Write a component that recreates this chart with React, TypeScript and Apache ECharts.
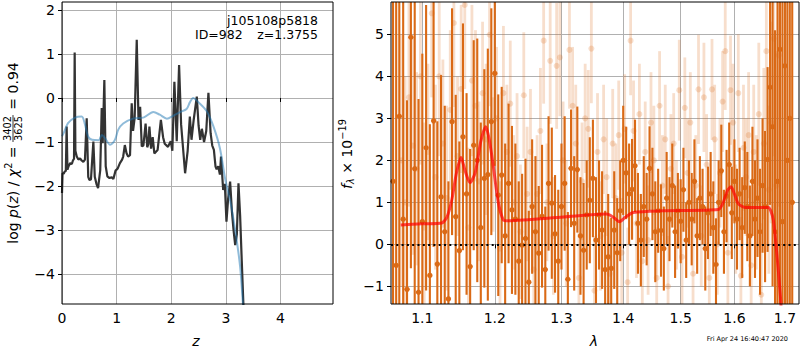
import React, { useEffect, useRef } from 'react';
import * as echarts from 'echarts';

// ---------- left panel: p(z) ----------
const zGrid = [0.0, 0.01, 0.03, 0.05, 0.07, 0.085, 0.1, 0.12, 0.15, 0.18, 0.2, 0.22, 0.232, 0.245, 0.27, 0.3, 0.33, 0.36, 0.39, 0.42, 0.452, 0.48, 0.5, 0.53, 0.574, 0.6, 0.63, 0.66, 0.7, 0.727, 0.745, 0.775, 0.8, 0.83, 0.87, 0.91, 0.94, 0.98, 1.02, 1.06, 1.1, 1.12, 1.15, 1.18, 1.21, 1.245, 1.276, 1.3, 1.33, 1.368, 1.4, 1.43, 1.46, 1.49, 1.53, 1.56, 1.58, 1.6, 1.63, 1.66, 1.69, 1.72, 1.75, 1.81, 1.85, 1.88, 1.94, 1.99, 2.02, 2.057, 2.1, 2.143, 2.18, 2.253, 2.3, 2.34, 2.37, 2.41, 2.467, 2.5, 2.53, 2.56, 2.6, 2.64, 2.68, 2.72, 2.75, 2.78, 2.81, 2.83, 2.86, 2.89, 2.91, 2.95, 2.98, 3.01, 3.04, 3.077, 3.11, 3.14, 3.17, 3.2, 3.23, 3.26, 3.29, 3.32, 3.34];
const logPz = [-2.16, -1.71, -1.72, -1.67, -1.66, -0.65, -1.63, -1.55, -1.48, -1.5, -1.42, -1.38, 1.03, -1.2, -1.33, -1.4, -1.37, -1.42, -1.45, -1.4, -0.46, -1.79, -1.86, -1.85, -0.99, -1.79, -1.95, -2.05, -1.64, -0.23, -1.03, 0.41, -1.55, -1.78, -1.82, -1.8, -1.84, -1.65, -1.6, -1.48, -1.4, -1.33, -1.07, -1.25, -1.33, -1.3, -0.12, -0.75, -0.45, 1.32, -0.5, -0.2, -1.1, -1.08, -0.58, -1.12, -1.05, -0.65, -1.15, -0.89, -1.26, -1.22, -1.18, -0.5, -0.89, -1.04, -1.11, -0.98, -1.2, 0.37, -0.98, 0.75, -0.6, -1.71, -1.2, -0.42, -0.95, -0.5, 0.03, -0.63, -0.95, -0.7, -1.0, -0.75, 0.12, -0.8, -1.08, -1.18, -1.56, -1.62, -1.55, -1.74, -1.33, -2.09, -1.95, -2.81, -2.3, -1.9, -2.58, -3.0, -3.34, -3.1, -1.94, -2.67, -3.7, -4.7, -5.5];
const zModel = [0.0, 0.03, 0.11, 0.23, 0.36, 0.42, 0.48, 0.55, 0.67, 0.73, 0.79, 0.88, 0.97, 1.03, 1.12, 1.3, 1.5, 1.67, 1.79, 1.92, 2.04, 2.16, 2.28, 2.34, 2.4, 2.5, 2.65, 2.77, 2.89, 2.985, 3.08, 3.17, 3.26, 3.31, 3.34];
const logPzModel = [-0.87, -0.8, -0.57, -0.45, -0.42, -0.6, -0.88, -0.95, -0.96, -0.84, -0.92, -1.06, -0.95, -0.72, -0.58, -0.47, -0.44, -0.32, -0.38, -0.47, -0.4, -0.32, -0.25, -0.1, 0.0, -0.1, -0.3, -0.64, -1.14, -1.83, -2.35, -3.0, -3.83, -4.66, -5.3];
const pzTicksX = [0, 1, 2, 3, 4];
const pzTicksY = [-4, -3, -2, -1, 0, 1, 2];

// ---------- right panel: spectrum [lambda, flux, err] ----------
const darkSpec: number[][] = [
  [1.062, 1.5, 9], [1.066, -0.5, 8], [1.07, 3.05, 5.0], [1.075, 0.6, 5.5], [1.08, -1.07, 4.5], [1.085, 4.93, 5.5], [1.09, 1.8, 4.2], [1.095, -1.14, 4.6], [1.1, 0.54, 4.0], [1.105, 2.3, 3.4],
  [1.11, -0.74, 3.6], [1.115, 2.94, 3.0], [1.12, -0.47, 3.4], [1.125, 1.13, 2.9], [1.13, 0.3, 3.0], [1.135, -1.3, 2.8], [1.14, 2.92, 2.7], [1.145, 0.66, 2.9], [1.15, -0.15, 2.6], [1.155, 2.56, 2.7],
  [1.16, 1.2, 2.4], [1.165, -0.53, 2.8], [1.17, 2.36, 2.5], [1.175, 2.0, 2.9], [1.18, 0.4, 2.5], [1.185, 1.57, 2.6], [1.19, 1.66, 3.0], [1.195, 2.92, 2.7], [1.2, 4.07, 2.2], [1.205, 1.17, 2.4],
  [1.21, 1.65, 2.1], [1.215, 0.2, 2.2], [1.22, 1.45, 1.9], [1.225, 0.82, 2.0], [1.23, 0.6, 1.8], [1.235, -0.4, 1.9], [1.24, -0.02, 1.7], [1.245, 0.14, 1.9], [1.25, -0.9, 1.7], [1.255, 0.9, 1.6],
  [1.26, 0.3, 1.8], [1.265, -0.21, 1.6], [1.27, 0.67, 1.7], [1.275, -0.6, 1.5], [1.28, 1.45, 1.6], [1.285, 0.98, 1.8], [1.29, 0.25, 1.4], [1.295, -0.4, 1.7], [1.3, 0.9, 1.5], [1.305, 1.45, 1.6],
  [1.31, -0.83, 1.6], [1.315, 1.81, 1.4], [1.32, 0.5, 1.6], [1.325, 1.78, 1.5], [1.33, 0.2, 1.4], [1.335, -0.14, 1.6], [1.34, 0.7, 1.3], [1.345, 1.05, 1.5], [1.35, 1.57, 1.4], [1.355, 0.1, 1.5],
  [1.36, 0.7, 1.3], [1.365, 0.34, 1.4], [1.37, -0.6, 1.4], [1.375, -0.3, 1.5], [1.38, -0.57, 1.2], [1.385, 0.34, 1.4], [1.39, -0.2, 1.3], [1.395, 0.8, 1.2], [1.4, 2.0, 1.3], [1.405, 1.7, 1.1],
  [1.41, 1.2, 1.2], [1.415, 1.31, 1.2], [1.42, 1.87, 1.1], [1.425, 0.5, 1.2], [1.43, 0.1, 1.1], [1.435, 0.9, 1.2], [1.44, 0.6, 1.1], [1.445, 1.81, 1.0], [1.45, 1.2, 1.1], [1.455, 0.3, 1.2],
  [1.46, 0.8, 1.0], [1.465, 0.33, 1.1], [1.47, -0.1, 1.0], [1.475, 1.1, 1.1], [1.48, 0.6, 1.0], [1.485, 1.4, 1.0], [1.49, 0.3, 1.1], [1.495, 0.8, 0.9], [1.5, 0.55, 1.0], [1.505, 1.3, 1.0],
  [1.51, 0.1, 0.9], [1.515, 1.0, 1.0], [1.52, 0.6, 1.1], [1.525, 1.5, 1.0], [1.53, 0.2, 0.9], [1.535, 1.1, 1.0], [1.54, 0.9, 0.9], [1.545, -0.1, 1.0], [1.55, 0.75, 1.1], [1.555, 1.2, 1.0],
  [1.56, 0.4, 1.1], [1.565, -0.48, 1.1], [1.57, 1.0, 1.0], [1.575, 1.75, 1.1], [1.58, 0.3, 1.0], [1.585, 1.15, 1.1], [1.59, 1.9, 1.0], [1.595, 0.75, 1.1], [1.6, 1.5, 1.0], [1.605, 0.6, 1.2],
  [1.61, 1.2, 1.1], [1.615, 0.4, 1.2], [1.62, 1.35, 1.1], [1.625, 0.9, 1.3], [1.63, 0.2, 1.2], [1.635, 1.5, 1.3], [1.64, 0.6, 1.4], [1.645, 1.1, 1.4], [1.65, 0.3, 1.5], [1.655, 1.4, 1.6],
  [1.66, 0.9, 1.8], [1.665, 2.02, 2.2], [1.67, 3.74, 2.8], [1.675, 2.8, 3.8], [1.68, 0.3, 4.8], [1.685, 1.5, 6.0], [1.69, 4.64, 8.0], [1.695, 0.54, 8.0], [1.7, 4.25, 9.0], [1.705, 2.0, 9.0],
  [1.71, 3.0, 9.0], [1.715, 1.0, 9.0],
];
const lightSpec: number[][] = [
  [1.0725, 2.0, 3.0], [1.0775, 1.0, 3.0], [1.0825, 3.5, 2.6], [1.0875, 2.35, 2.6], [1.0925, 1.8, 2.3], [1.0975, 4.0, 2.1], [1.1025, 0.4, 2.5], [1.1075, 2.2, 2.1], [1.1125, 5.5, 2.0], [1.1175, 1.6, 2.2],
  [1.1225, 4.0, 1.9], [1.1275, 2.4, 2.0], [1.1325, 1.1, 2.2], [1.1375, 3.2, 1.9], [1.1425, 5.27, 2.0], [1.1475, 2.1, 1.9], [1.1525, 3.7, 2.0], [1.1575, 5.7, 2.0], [1.1625, 0.4, 1.9], [1.1675, 3.9, 1.8],
  [1.1725, 3.3, 1.8], [1.1775, 1.5, 1.9], [1.1825, 3.6, 1.7], [1.1875, 2.5, 1.8], [1.1925, 4.99, 1.7], [1.1975, 1.9, 1.6], [1.2025, 3.0, 1.7], [1.2075, -0.1, 1.6], [1.2125, 3.6, 1.6], [1.2175, 2.2, 1.6],
  [1.2225, 3.35, 1.5], [1.2275, 1.0, 1.6], [1.2325, 2.1, 1.5], [1.2375, 0.3, 1.6], [1.2425, 3.55, 1.5], [1.2475, 1.2, 1.6], [1.2525, 2.2, 1.5], [1.2575, -0.6, 1.6], [1.2625, 1.2, 1.4], [1.2675, 2.7, 1.5],
  [1.2725, 4.85, 1.5], [1.2775, 1.0, 1.4], [1.2825, 4.37, 1.5], [1.2875, 0.2, 1.4], [1.2925, 4.25, 1.5], [1.2975, 4.45, 1.4], [1.3025, 2.0, 1.4], [1.3075, 0.5, 1.5], [1.3125, 4.63, 1.4], [1.3175, 3.3, 1.4],
  [1.3225, 2.4, 1.4], [1.3275, -0.8, 1.4], [1.3325, 1.5, 1.4], [1.3375, 3.0, 1.3], [1.3425, 2.75, 1.4], [1.3475, 4.66, 1.3], [1.3525, -1.1, 1.3], [1.3575, 2.2, 1.4], [1.3625, 0.2, 1.3], [1.3675, 2.5, 1.3],
  [1.3725, 1.6, 1.4], [1.3775, -0.7, 1.3], [1.3825, 2.4, 1.3], [1.3875, 1.1, 1.3], [1.3925, 2.6, 1.3], [1.3975, -0.2, 1.3], [1.4025, 2.75, 1.3], [1.4075, -0.9, 1.3], [1.4125, 4.85, 1.3], [1.4175, 2.7, 1.2],
  [1.4225, 0.5, 1.3], [1.4275, 3.1, 1.2], [1.4325, -0.4, 1.3], [1.4375, 2.2, 1.2], [1.4425, 0.1, 1.3], [1.4475, 2.9, 1.2], [1.4525, 2.0, 1.3], [1.4575, -0.8, 1.2], [1.4625, 3.3, 1.3], [1.4675, 1.4, 1.2],
  [1.4725, 2.5, 1.3], [1.4775, -1.0, 1.2], [1.4825, 1.8, 1.3], [1.4875, 2.4, 1.2], [1.4925, 0.7, 1.3], [1.4975, 3.67, 1.2], [1.5025, -0.3, 1.3], [1.5075, 3.25, 1.2], [1.5125, 1.7, 1.3], [1.5175, 2.9, 1.2],
  [1.5225, -0.7, 1.3], [1.5275, 1.4, 1.2], [1.5325, 3.69, 1.3], [1.5375, 0.2, 1.2], [1.5425, 3.5, 1.3], [1.5475, 1.9, 1.2], [1.5525, -0.8, 1.3], [1.5575, 3.69, 1.2], [1.5625, 2.5, 1.3], [1.5675, 0.0, 1.2],
  [1.5725, 1.7, 1.3], [1.5775, 3.4, 1.2], [1.5825, 4.6, 1.4], [1.5875, -0.2, 1.3], [1.5925, 3.67, 1.3], [1.5975, 2.9, 1.4], [1.6025, 0.6, 1.3], [1.6075, 3.6, 1.4], [1.6125, -0.75, 1.4], [1.6175, 2.3, 1.5],
  [1.6225, 1.6, 1.4], [1.6275, 2.6, 1.5], [1.6325, -0.5, 1.5], [1.6375, 2.2, 1.6], [1.6425, 1.0, 1.6], [1.6475, 3.1, 1.7], [1.6525, -1.2, 1.7], [1.6575, 2.4, 1.8], [1.6625, 4.6, 1.9], [1.6675, 1.3, 2.0],
  [1.6725, 2.9, 2.4], [1.6775, 4.9, 2.8], [1.6825, 1.4, 3.2], [1.6875, 4.5, 3.6],
];
const modelWave = [1.0718, 1.1, 1.126, 1.133, 1.1395, 1.146, 1.1523, 1.158, 1.1648, 1.172, 1.18, 1.187, 1.192, 1.1979, 1.205, 1.2123, 1.217, 1.3029, 1.3726, 1.383, 1.3935, 1.404, 1.4171, 1.469, 1.5693, 1.5787, 1.5865, 1.5934, 1.6, 1.6075, 1.6204, 1.6664, 1.672, 1.6765, 1.6819, 1.6914, 1.694];
const modelFlux = [0.46, 0.49, 0.51, 0.65, 1.05, 1.7, 2.07, 1.75, 1.47, 1.7, 2.45, 2.8, 2.5, 1.85, 1.0, 0.58, 0.56, 0.65, 0.72, 0.65, 0.54, 0.65, 0.76, 0.8, 0.83, 1.0, 1.28, 1.37, 1.2, 0.97, 0.88, 0.88, 0.78, 0.58, 0.0, -1.33, -2.0];
const specTicksX = [1.1, 1.2, 1.3, 1.4, 1.5, 1.6, 1.7];
const specTicksY = [-1, 0, 1, 2, 3, 4, 5];

const PZ_XMIN = 0, PZ_XMAX = 4.96, PZ_YMIN = -4.68, PZ_YMAX = 2.18;
const SP_LMIN = 1.0594, SP_LMAX = 1.729, SP_YMIN = -1.42, SP_YMAX = 5.77;

const FONT = 'DejaVu Sans';
const DARK = 'rgb(218,106,22)';
const LIGHT = 'rgba(218,106,22,0.22)';

const minus = (v: number) => (v < 0 ? '\u2212' + Math.abs(v) : String(v));

let ctx: CanvasRenderingContext2D | null = null;
function measure(text: string, size: number, italic = false) {
  if (!ctx) ctx = document.createElement('canvas').getContext('2d');
  ctx!.font = `${italic ? 'italic ' : ''}${size}px "${FONT}"`;
  return ctx!.measureText(text).width;
}

type Piece = { t?: string; s?: number; it?: boolean; dy?: number; frac?: [string, string] };
function mathLabel(pieces: Piece[], cx: number, cy: number) {
  const items: any[] = [];
  let cur = 0;
  pieces.forEach((p) => {
    const s = p.s ?? 14;
    if (p.frac) {
      const w = Math.max(measure(p.frac[0], s), measure(p.frac[1], s)) + 2;
      items.push({ kind: 'frac', x: cur, w, p, s });
      cur += w + 1;
    } else {
      const w = measure(p.t!, s, p.it);
      items.push({ kind: 'text', x: cur, w, p, s });
      cur += w;
    }
  });
  const off = -cur / 2;
  const children: any[] = [];
  items.forEach((it) => {
    if (it.kind === 'text') {
      children.push({
        type: 'text', x: off + it.x, y: it.p.dy ?? 0,
        style: { text: it.p.t, fontSize: it.s, fontFamily: FONT, fontStyle: it.p.it ? 'italic' : 'normal', fill: '#000', align: 'left', verticalAlign: 'middle' },
      });
    } else {
      const mid = off + it.x + it.w / 2;
      children.push({ type: 'text', x: mid, y: -5.5, style: { text: it.p.frac[0], fontSize: it.s, fontFamily: FONT, fill: '#000', align: 'center', verticalAlign: 'middle' } });
      children.push({ type: 'text', x: mid, y: 5.8, style: { text: it.p.frac[1], fontSize: it.s, fontFamily: FONT, fill: '#000', align: 'center', verticalAlign: 'middle' } });
      children.push({ type: 'line', shape: { x1: off + it.x, y1: 0, x2: off + it.x + it.w, y2: 0 }, style: { stroke: '#000', lineWidth: 0.8 } });
    }
  });
  return { type: 'group', x: cx, y: cy, rotation: Math.PI / 2, children };
}

function axisBase(ticks: number[], fmt: (v: number) => string) {
  return {
    axisLine: { show: false },
    axisTick: { show: true, length: 4, customValues: ticks, lineStyle: { color: '#000', width: 1 } },
    axisLabel: { show: true, customValues: ticks, formatter: fmt, color: '#000', fontSize: 14, fontFamily: FONT, margin: 7 },
    splitLine: { show: true, lineStyle: { color: '#b0b0b0', width: 1 } },
  };
}

function errSeries(data: number[][], color: string, z: number, lw: number, r: number) {
  return {
    type: 'custom', xAxisIndex: 1, yAxisIndex: 1, z, silent: true,
    data: data.map(([w, f, e]) => [Math.log(w), f, e]),
    encode: { x: 0, y: 1 },
    renderItem: (_params: any, api: any) => {
      const x = api.value(0), y = api.value(1), e = api.value(2);
      const lo = Math.max(y - e, SP_YMIN), hi = Math.min(y + e, SP_YMAX);
      const children: any[] = [];
      if (hi > lo) {
        const p1 = api.coord([x, lo]);
        const p2 = api.coord([x, hi]);
        children.push({ type: 'line', shape: { x1: p1[0], y1: p1[1], x2: p2[0], y2: p2[1] }, style: { stroke: color, lineWidth: lw } });
      }
      if (y >= SP_YMIN && y <= SP_YMAX) {
        const p = api.coord([x, y]);
        children.push({ type: 'circle', shape: { cx: p[0], cy: p[1], r }, style: { fill: color } });
      }
      return { type: 'group', children };
    },
  };
}

export default function App() {
  const ref = useRef<HTMLDivElement>(null);
  useEffect(() => {
    if (!ref.current) return;
    const chart = echarts.init(ref.current, null, { renderer: 'svg' });
    const option: any = {
      animation: false,
      backgroundColor: '#fff',
      grid: [
        { left: 62, top: 2, width: 271, height: 302, containLabel: false },
        { left: 391, top: 2, width: 408, height: 302, containLabel: false },
      ],
      xAxis: [
        { type: 'value', gridIndex: 0, min: PZ_XMIN, max: PZ_XMAX, ...axisBase(pzTicksX, (v) => String(v)) },
        { type: 'value', gridIndex: 1, min: Math.log(SP_LMIN), max: Math.log(SP_LMAX), ...axisBase(specTicksX.map(Math.log), (v) => Math.exp(v).toFixed(1)) },
      ],
      yAxis: [
        { type: 'value', gridIndex: 0, min: PZ_YMIN, max: PZ_YMAX, ...axisBase(pzTicksY, minus) },
        { type: 'value', gridIndex: 1, min: SP_YMIN, max: SP_YMAX, ...axisBase(specTicksY, minus) },
      ],
      series: [
        {
          type: 'line', xAxisIndex: 0, yAxisIndex: 0, z: 3, silent: true, showSymbol: false, symbol: 'none',
          data: zGrid.map((z, i) => [z, logPz[i]]),
          lineStyle: { color: '#333333', width: 2.2 },
        },
        {
          type: 'line', xAxisIndex: 0, yAxisIndex: 0, z: 4, silent: true, showSymbol: false, symbol: 'none', smooth: 0.3,
          data: zModel.map((z, i) => [z, logPzModel[i]]),
          lineStyle: { color: 'rgba(31,119,180,0.5)', width: 2 },
        },
        errSeries(darkSpec, DARK, 2, 2.1, 2.7),
        errSeries(lightSpec, LIGHT, 3, 2.8, 3),
        {
          type: 'line', xAxisIndex: 1, yAxisIndex: 1, z: 6, silent: true, showSymbol: false, symbol: 'none', smooth: 0.25,
          data: modelWave.map((w, i) => [Math.log(w), modelFlux[i]]),
          lineStyle: { color: 'rgba(255,0,0,0.7)', width: 3 },
          markLine: {
            silent: true, symbol: 'none', label: { show: false },
            lineStyle: { color: '#000', width: 2, type: [2, 3.3] },
            data: [{ yAxis: 0 }],
          },
        },
      ],
      graphic: [
        { type: 'rect', z: 100, shape: { x: 62, y: 2, width: 271, height: 302 }, style: { fill: 'none', stroke: '#000', lineWidth: 1 } },
        { type: 'rect', z: 100, shape: { x: 391, y: 2, width: 408, height: 302 }, style: { fill: 'none', stroke: '#000', lineWidth: 1 } },
        { type: 'text', z: 100, x: 318, y: 20.5, style: { text: 'j105108p5818', fontSize: 12.5, fontFamily: FONT, fill: '#000', align: 'right', verticalAlign: 'middle' } },
        { type: 'text', z: 100, x: 318, y: 34.5, style: { text: 'z=1.3755', fontSize: 12.5, fontFamily: FONT, fill: '#000', align: 'right', verticalAlign: 'middle' } },
        { type: 'text', z: 100, x: 195, y: 34.5, style: { text: 'ID=982', fontSize: 12.5, fontFamily: FONT, fill: '#000', align: 'left', verticalAlign: 'middle' } },
        { type: 'text', z: 100, x: 196, y: 341, style: { text: 'z', fontSize: 14, fontStyle: 'italic', fontFamily: FONT, fill: '#000', align: 'center', verticalAlign: 'middle' } },
        { type: 'text', z: 100, x: 594, y: 341, style: { text: 'λ', fontSize: 14, fontStyle: 'italic', fontFamily: FONT, fill: '#000', align: 'center', verticalAlign: 'middle' } },
        { type: 'text', z: 100, x: 788, y: 339, style: { text: 'Fri Apr 24 16:40:47 2020', fontSize: 6.5, fontFamily: FONT, fill: '#000', align: 'right', verticalAlign: 'middle' } },
        mathLabel([
          { t: 'log ' }, { t: 'p', it: true }, { t: '(' }, { t: 'z', it: true }, { t: ') / ' }, { t: 'χ', it: true },
          { t: '2', s: 9.8, dy: -5 }, { t: ' = ' }, { frac: ['3402', '3625'], s: 9.8 }, { t: ' = 0.94' },
        ], 13, 153),
        mathLabel([
          { t: 'f', it: true }, { t: 'λ', it: true, s: 9.8, dy: 3.5 }, { t: ' × 10' }, { t: '\u221219', s: 9.8, dy: -5 },
        ], 347, 154),
      ],
    };
    chart.setOption(option);
    return () => chart.dispose();
  }, []);
  return <div ref={ref} style={{ position: 'fixed', left: 0, top: 0, width: 800, height: 350 }} />;
}
